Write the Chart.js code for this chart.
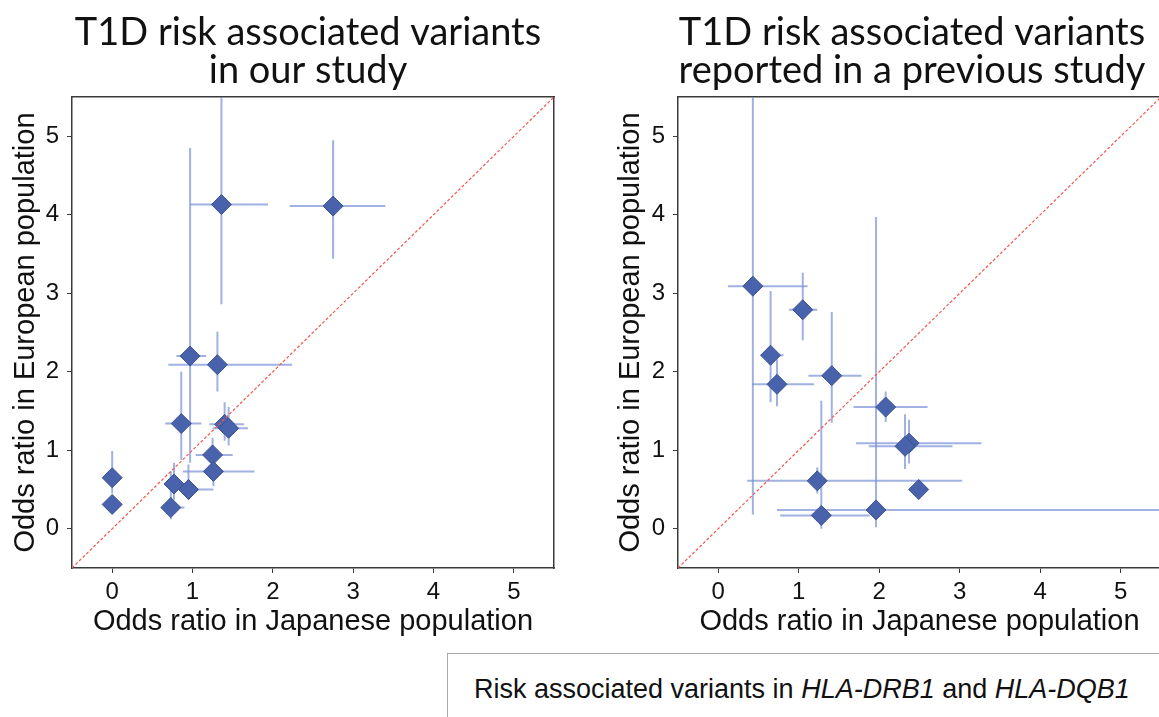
<!DOCTYPE html>
<html>
<head>
<meta charset="utf-8">
<script src="https://cdn.jsdelivr.net/npm/chart.js@4.4.0/dist/chart.umd.min.js"></script>
<style>
  html, body { margin: 0; padding: 0; background: #fff; overflow: hidden; width: 1159px; height: 717px; }
  canvas { position: absolute; top: 0; }
  #ours { left: 0; }
  #prev { left: 600px; }
  #legendBox {
    position: absolute; left: 447px; top: 653px; width: 800px; height: 100px;
    border: 1px solid #a8a8a8; box-sizing: border-box;
  }
  #legendBox span {
    position: absolute; left: 26px; top: 22px; white-space: nowrap;
    font: 27px/27px "Liberation Sans", Arial, sans-serif; color: #111;
  }
</style>
</head>
<body>
<canvas id="ours" width="616" height="650"></canvas>
<canvas id="prev" width="624" height="650"></canvas>
<div id="legendBox"><span>Risk associated variants in <i>HLA-DRB1</i> and <i>HLA-DQB1</i></span></div>
<script>
// odds ratios (x = Japanese, y = European), with CI ends
const ourJpn   = [1.36, 2.75, 0.97, 1.31, 0.86, 1.40, 1.45, 1.25, 1.26, 0, 0, 0.77, 0.95, 0.73];
const ourJpnLo = [0.97, 2.21, 0.80, 0.70, 0.66, 1.21, 1.25, 1.04, 0.88, null, null, 0.70, 0.83, 0.65];
const ourJpnHi = [1.94, 3.40, 1.17, 2.24, 1.11, 1.64, 1.69, 1.50, 1.77, null, null, 0.85, 1.26, 0.90];
const ourEur   = [4.13, 4.11, 2.20, 2.09, 1.34, 1.33, 1.28, 0.94, 0.73, 0.65, 0.31, 0.57, 0.50, 0.27];
const ourEurLo = [2.86, 3.44, 0.84, 1.75, 0.88, 1.12, 1.06, 0.69, 0.54, 0.45, null, 0.37, 0.37, 0.12];
const ourEurHi = [6.20, 4.95, 4.85, 2.51, 2.00, 1.61, 1.55, 1.16, 0.97, 0.99, null, 0.84, 0.82, 0.73];

const prevJpn   = [0.43, 1.05, 0.65, 0.73, 1.41, 2.08, 2.37, 2.32, 1.23, 1.28, 1.96, 2.49];
const prevJpnLo = [0.12, 0.88, 0.53, 0.42, 1.12, 1.68, 1.71, 1.87, 0.36, 0.77, 0.73, null];
const prevJpnHi = [1.11, 1.23, 0.81, 1.19, 1.78, 2.60, 3.27, 2.91, 3.03, 1.88, 6.50, null];
const prevEur   = [3.09, 2.79, 2.21, 1.84, 1.95, 1.55, 1.09, 1.05, 0.61, 0.17, 0.24, 0.50];
const prevEurLo = [0.18, 2.40, 1.61, 1.56, 1.35, 1.36, 0.83, 0.76, 0.45, 0.00, 0.02, null];
const prevEurHi = [6.20, 3.26, 3.03, 2.16, 2.76, 1.75, 1.39, 1.46, 0.78, 1.63, 3.97, null];

const tickValues = [0, 1, 2, 3, 4, 5];
const axisMin = -0.5, axisMax = 5.5;

const labelFont = { family: 'Liberation Sans', size: 29, lineHeight: 1.2 };
const tickFont = { family: 'Liberation Sans', size: 24 };
const frame = { display: true, color: '#3a3a3a', width: 1.5 };

// draws the CI whiskers right before the diamonds
const errorBars = {
  id: 'errorBars',
  beforeDatasetDraw(chart, args) {
    const ds = chart.data.datasets[args.index];
    if (!ds.err) return;
    const { ctx, chartArea: a, scales: { x, y } } = chart;
    ctx.save();
    ctx.beginPath();
    ctx.rect(a.left, a.top, a.right - a.left, a.bottom - a.top);
    ctx.clip();
    ctx.strokeStyle = 'rgba(120, 144, 214, 0.7)';
    ctx.lineWidth = 2;
    ds.data.forEach((p, i) => {
      const px = x.getPixelForValue(p.x), py = y.getPixelForValue(p.y);
      ctx.beginPath();
      if (ds.err.xLo[i] != null) {
        ctx.moveTo(x.getPixelForValue(ds.err.xLo[i]), py);
        ctx.lineTo(x.getPixelForValue(ds.err.xHi[i]), py);
      }
      if (ds.err.yLo[i] != null) {
        ctx.moveTo(px, y.getPixelForValue(ds.err.yLo[i]));
        ctx.lineTo(px, y.getPixelForValue(ds.err.yHi[i]));
      }
      ctx.stroke();
    });
    ctx.restore();
  }
};

function makeChart(id, titleLines, jpn, jpnLo, jpnHi, eur, eurLo, eurHi, geo) {
  const pts = jpn.map((v, i) => ({ x: v, y: eur[i] }));
  return new Chart(document.getElementById(id), {
    type: 'scatter',
    data: {
      datasets: [
        {
          type: 'line',
          data: [{ x: axisMin, y: axisMin }, { x: axisMax, y: axisMax }],
          borderColor: '#f4574a',
          borderWidth: 1.2,
          borderDash: [3, 2],
          pointRadius: 0,
          fill: false
        },
        {
          data: pts,
          err: { xLo: jpnLo, xHi: jpnHi, yLo: eurLo, yHi: eurHi },
          pointStyle: 'rectRot',
          pointRadius: 10,
          backgroundColor: '#4862ab',
          borderColor: '#3b5193',
          borderWidth: 1
        }
      ]
    },
    options: {
      responsive: false,
      animation: false,
      layout: { padding: 0 },
      plugins: {
        legend: { display: false },
        tooltip: { enabled: false },
        title: {
          display: true,
          text: titleLines,
          color: '#111',
          font: { family: 'Lato', size: 38, weight: 'normal', lineHeight: 1.0 },
          padding: { top: 13.3, bottom: 7.7 }
        }
      },
      scales: {
        x: {
          type: 'linear', position: 'bottom', min: axisMin, max: axisMax,
          afterBuildTicks: s => { s.ticks = tickValues.map(v => ({ value: v })); },
          afterFit: s => { s.height = geo.xH; },
          ticks: { font: tickFont, color: '#111', padding: 5 },
          grid: { drawOnChartArea: false, drawTicks: true, tickLength: 5, tickColor: '#3a3a3a' },
          border: frame,
          title: { display: true, text: 'Odds ratio in Japanese population', color: '#111',
                   font: labelFont, padding: { top: 0, bottom: 10.5 } }
        },
        y: {
          type: 'linear', position: 'left', min: axisMin, max: axisMax,
          afterBuildTicks: s => { s.ticks = tickValues.map(v => ({ value: v })); },
          afterFit: s => { s.width = geo.yW; },
          ticks: { font: tickFont, color: '#111', padding: 8 },
          grid: { drawOnChartArea: false, drawTicks: true, tickLength: 5, tickColor: '#3a3a3a' },
          border: frame,
          title: { display: true, text: 'Odds ratio in European population', color: '#111',
                   font: labelFont, padding: { top: geo.yTitlePad, bottom: 0 } }
        },
        xTop: {
          type: 'linear', position: 'top', min: axisMin, max: axisMax,
          afterFit: s => { s.height = 0; },
          ticks: { display: false },
          grid: { display: false },
          border: frame
        },
        yRight: {
          type: 'linear', position: 'right', min: axisMin, max: axisMax,
          afterFit: s => { s.width = geo.rightW; },
          ticks: { display: false },
          grid: { display: false },
          border: frame
        }
      }
    },
    plugins: [errorBars]
  });
}

makeChart('ours', ['T1D risk associated variants', 'in our study'],
  ourJpn, ourJpnLo, ourJpnHi, ourEur, ourEurLo, ourEurHi,
  { yW: 72, rightW: 62, xH: 82, yTitlePad: 8.5 });

makeChart('prev', ['T1D risk associated variants', 'reported in a previous study'],
  prevJpn, prevJpnLo, prevJpnHi, prevEur, prevEurLo, prevEurHi,
  { yW: 78, rightW: 63, xH: 82, yTitlePad: 13.5 });
</script>
</body>
</html>
